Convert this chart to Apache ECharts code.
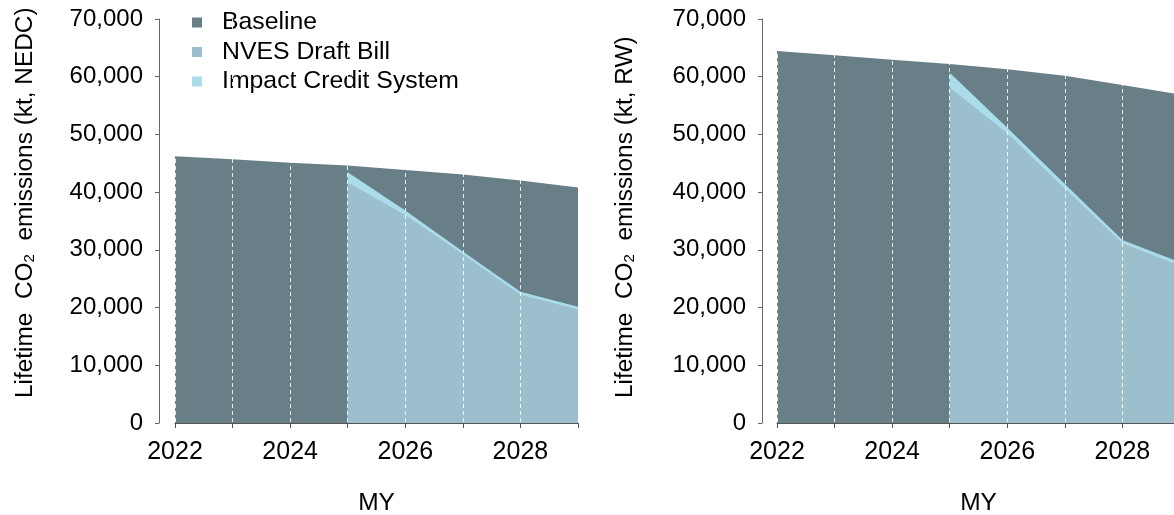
<!DOCTYPE html>
<html>
<head>
<meta charset="utf-8">
<title>Lifetime CO2 emissions by model year</title>
<script src="https://cdn.jsdelivr.net/npm/echarts@6/dist/echarts.min.js"></script>
<style>
  html, body { margin: 0; padding: 0; background: #fff; overflow: hidden; }
  #chart { width: 1174px; height: 515px; }
</style>
</head>
<body>
<div id="chart"></div>
<script>
// Model years on the x axis
const years = [2022, 2023, 2024, 2025, 2026, 2027, 2028, 2029];

// Lifetime CO2 emissions, kt, NEDC test cycle
const nedcBaseline = [46200, 45700, 45100, 44600, 43850, 43050, 42000, 40800];
const nedcNves     = [null, null, null, 41650, 36050, 29250, 22200, 19700];
const nedcImpact   = [null, null, null, 43450, 36800, 29700, 22750, 20150];

// Lifetime CO2 emissions, kt, real-world
const rwBaseline = [64450, 63700, 62950, 62200, 61300, 60150, 58550, 56900];
const rwNves     = [null, null, null, 58150, 50200, 40650, 31150, 27250];
const rwImpact   = [null, null, null, 60700, 51150, 41400, 31700, 27850];

// Scenario names and axis scales
const seriesNames = ['Baseline', 'NVES Draft Bill', 'Impact Credit System'];
const yMin = 0, yMax = 70000, yStep = 10000;
const xMin = 2022, xMax = 2029, xStep = 1;

const FONT = '"Liberation Sans", Arial, Helvetica, sans-serif';
const COLORS = { base: '#687f88', nves: '#9bbfcd', impact: '#aadcea' };

function pairs(values) {
  return years.map((y, i) => [y, values[i]]).filter(p => p[1] != null);
}

function xAxisFor(gridIndex) {
  return {
    type: 'value', gridIndex, min: xMin, max: xMax, interval: xStep, z: 5,
    name: 'MY', nameLocation: 'middle', nameGap: 68,
    nameTextStyle: { fontFamily: FONT, fontSize: 24.5, color: '#000' },
    axisLine: { show: true, onZero: false, lineStyle: { color: '#555', width: 1 } },
    axisTick: { show: true, length: 5, lineStyle: { color: '#555' } },
    axisLabel: {
      margin: 17, fontFamily: FONT, fontSize: 25, color: '#000',
      formatter: v => (v % 2 === 0 ? String(v) : '')
    },
    splitLine: { show: true, lineStyle: { color: 'rgba(255,255,255,0.85)', type: [4, 3], width: 1 } }
  };
}

function yAxisFor(gridIndex, offset) {
  return {
    type: 'value', gridIndex, min: yMin, max: yMax, interval: yStep, offset,
    axisLine: { show: true, lineStyle: { color: '#666', width: 1 } },
    axisTick: { show: true, length: 4, lineStyle: { color: '#666' } },
    axisLabel: {
      margin: 16, fontFamily: FONT, fontSize: 24, color: '#000',
      formatter: v => v.toLocaleString('en-US')
    },
    splitLine: { show: false }
  };
}

function area(name, values, color, idx) {
  return {
    name, type: 'line', xAxisIndex: idx, yAxisIndex: idx,
    data: pairs(values), showSymbol: false, symbol: 'none',
    lineStyle: { width: 0 }, itemStyle: { color },
    areaStyle: { color, opacity: 1 }, silent: true, animation: false
  };
}

function yTitle(x, y, unit) {
  return {
    type: 'text', x, y, rotation: Math.PI / 2,
    style: {
      text: '{a|Lifetime  CO}{s|2}{a|  emissions (kt, ' + unit + ')}',
      align: 'left', verticalAlign: 'middle',
      rich: {
        a: { fontFamily: FONT, fontSize: 24.4, lineHeight: 24, fill: '#000', verticalAlign: 'bottom' },
        s: { fontFamily: FONT, fontSize: 15, lineHeight: 8, fill: '#000', verticalAlign: 'bottom' }
      }
    }
  };
}

const chart = echarts.init(document.getElementById('chart'), null, { renderer: 'canvas' });
chart.setOption({
  animation: false,
  backgroundColor: '#fff',
  grid: [
    { left: 175, top: 19, width: 403, height: 404, outerBoundsMode: 'none', containLabel: false },
    { left: 777, top: 19, width: 403, height: 404, outerBoundsMode: 'none', containLabel: false }
  ],
  xAxis: [xAxisFor(0), xAxisFor(1)],
  yAxis: [yAxisFor(0, 16), yAxisFor(1, 15)],
  legend: {
    data: seriesNames, orient: 'vertical', left: 187, top: 5,
    icon: 'rect', itemWidth: 10, itemHeight: 10, itemGap: 4.5,
    selectedMode: false,
    textStyle: { fontFamily: FONT, fontSize: 24.8, color: '#000', padding: [0, 0, 0, 15] }
  },
  graphic: [yTitle(25, 398, 'NEDC'), yTitle(625, 398, 'RW')],
  series: [
    area(seriesNames[0], nedcBaseline, COLORS.base, 0),
    area(seriesNames[2], nedcImpact, COLORS.impact, 0),
    area(seriesNames[1], nedcNves, COLORS.nves, 0),
    area(seriesNames[0], rwBaseline, COLORS.base, 1),
    area(seriesNames[2], rwImpact, COLORS.impact, 1),
    area(seriesNames[1], rwNves, COLORS.nves, 1)
  ]
});
</script>
</body>
</html>
